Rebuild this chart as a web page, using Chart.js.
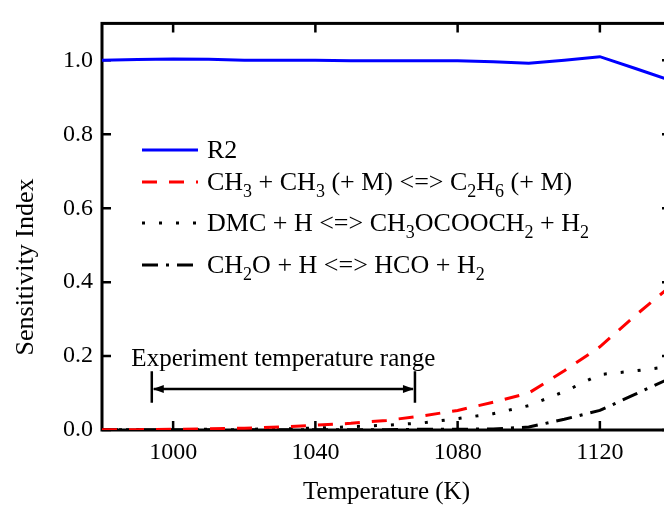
<!DOCTYPE html>
<html lang="en">
<head>
<meta charset="UTF-8" />
<title>Sensitivity Index vs Temperature</title>
<script src="https://cdn.jsdelivr.net/npm/chart.js"></script>
<style>
  html, body { margin: 0; padding: 0; background: #fff; overflow: hidden; }
  #wrap { width: 664px; height: 507px; overflow: hidden; }
</style>
</head>
<body>
<div id="wrap"><canvas id="chart" width="700" height="507"></canvas></div>
<script>
  // data
  const temps = [980, 990, 1000, 1010, 1020, 1030, 1040, 1050, 1060, 1070, 1080, 1090, 1100, 1110, 1120, 1130, 1140];
  const r2    = [1.000, 1.002, 1.004, 1.003, 1.000, 1.000, 1.000, 0.999, 0.999, 0.999, 0.999, 0.996, 0.992, 1.000, 1.010, 0.978, 0.945];
  const ch3   = [0.001, 0.001, 0.002, 0.003, 0.005, 0.008, 0.013, 0.018, 0.026, 0.038, 0.053, 0.075, 0.100, 0.160, 0.225, 0.310, 0.390];
  const dmc   = [0.001, 0.001, 0.001, 0.002, 0.002, 0.003, 0.005, 0.009, 0.013, 0.019, 0.031, 0.044, 0.066, 0.104, 0.150, 0.160, 0.172];
  const ch2o  = [0.001, 0.001, 0.001, 0.001, 0.001, 0.001, 0.001, 0.001, 0.001, 0.002, 0.002, 0.003, 0.008, 0.029, 0.053, 0.097, 0.141];

  const xTicks = [1000, 1040, 1080, 1120];
  const yTicks = [0, 0.2, 0.4, 0.6, 0.8, 1.0];

  // "_3" means subscript 3
  const labels = ['R2', 'CH_3 + CH_3 (+ M) <=> C_2H_6 (+ M)', 'DMC + H <=> CH_3OCOOCH_2 + H_2', 'CH_2O + H <=> HCO + H_2'];
  const rangeLabel = 'Experiment temperature range';
  const rangeStart = 994;
  const rangeEnd = 1068;

  const FONT = '"Liberation Serif", "Times New Roman", serif';

  const pts = arr => temps.map((t, i) => ({ x: t, y: arr[i] }));

  // frame with inward ticks on all four sides
  const framePlugin = {
    id: 'frame',
    beforeDatasetsDraw(chart) {
      const { ctx, chartArea: a, scales: { x, y } } = chart;
      ctx.save();
      ctx.strokeStyle = '#000';
      ctx.lineWidth = 3;
      ctx.strokeRect(a.left, a.top, a.right - a.left, a.bottom - a.top);
      ctx.lineWidth = 2.5;
      ctx.beginPath();
      xTicks.forEach(v => {
        const px = x.getPixelForValue(v);
        ctx.moveTo(px, a.bottom); ctx.lineTo(px, a.bottom - 9);
        ctx.moveTo(px, a.top); ctx.lineTo(px, a.top + 9);
      });
      yTicks.forEach(v => {
        const py = y.getPixelForValue(v);
        ctx.moveTo(a.left, py); ctx.lineTo(a.left + 9, py);
        ctx.moveTo(a.right, py); ctx.lineTo(a.right - 9, py);
      });
      ctx.stroke();
      ctx.restore();
    }
  };

  function drawRich(ctx, text, x, baseline, size) {
    const parts = text.split(/(_\d)/);
    parts.forEach(p => {
      if (!p) return;
      if (p[0] === '_') {
        ctx.font = Math.round(size * 0.7) + 'px ' + FONT;
        ctx.fillText(p[1], x, baseline + 7);
        x += ctx.measureText(p[1]).width;
      } else {
        ctx.font = size + 'px ' + FONT;
        ctx.fillText(p, x, baseline);
        x += ctx.measureText(p).width;
      }
    });
  }

  const extrasPlugin = {
    id: 'extras',
    afterDraw(chart) {
      const { ctx, scales: { x, y } } = chart;
      ctx.save();
      ctx.fillStyle = '#000';
      ctx.textBaseline = 'alphabetic';

      // legend
      const rows = [150, 182, 223, 265];
      chart.data.datasets.forEach((ds, i) => {
        const ry = rows[i];
        ctx.save();
        ctx.strokeStyle = ds.borderColor;
        ctx.lineWidth = ds.borderWidth;
        ctx.setLineDash(ds.borderDash || []);
        ctx.beginPath();
        ctx.moveTo(142, ry);
        ctx.lineTo(198, ry);
        ctx.stroke();
        ctx.restore();
        drawRich(ctx, ds.label, 207, ry + 8, 26);
      });

      // experiment range annotation
      const x0 = x.getPixelForValue(rangeStart);
      const x1 = x.getPixelForValue(rangeEnd);
      const ya = y.getPixelForValue(0.111);
      const yb0 = y.getPixelForValue(0.159);
      const yb1 = y.getPixelForValue(0.074);
      ctx.strokeStyle = '#000';
      ctx.lineWidth = 2.5;
      ctx.beginPath();
      ctx.moveTo(x0, yb0); ctx.lineTo(x0, yb1);
      ctx.moveTo(x1, yb0); ctx.lineTo(x1, yb1);
      ctx.moveTo(x0 + 2, ya); ctx.lineTo(x1 - 2, ya);
      ctx.stroke();
      ctx.beginPath();
      ctx.moveTo(x0 + 1, ya); ctx.lineTo(x0 + 12, ya - 4); ctx.lineTo(x0 + 12, ya + 4); ctx.closePath();
      ctx.moveTo(x1 - 1, ya); ctx.lineTo(x1 - 12, ya - 4); ctx.lineTo(x1 - 12, ya + 4); ctx.closePath();
      ctx.fill();

      ctx.font = '25px ' + FONT;
      ctx.textAlign = 'center';
      ctx.fillText(rangeLabel, (x0 + x1) / 2, y.getPixelForValue(0.196) + 8);

      // y axis title
      ctx.translate(26, 267);
      ctx.rotate(-Math.PI / 2);
      ctx.textAlign = 'center';
      ctx.textBaseline = 'middle';
      ctx.font = '26px ' + FONT;
      ctx.fillText('Sensitivity Index', 0, 0);
      ctx.restore();
    }
  };

  new Chart(document.getElementById('chart'), {
    type: 'line',
    data: {
      datasets: [
        { label: labels[0], data: pts(r2), borderColor: '#0000ff', borderWidth: 3 },
        { label: labels[1], data: pts(ch3), borderColor: '#ff0000', borderWidth: 3, borderDash: [15, 12] },
        { label: labels[2], data: pts(dmc), borderColor: '#000000', borderWidth: 3, borderDash: [3, 14] },
        { label: labels[3], data: pts(ch2o), borderColor: '#000000', borderWidth: 3, borderDash: [16, 8, 3, 8] }
      ]
    },
    options: {
      responsive: false,
      animation: false,
      elements: { point: { radius: 0 }, line: { tension: 0 } },
      layout: { padding: { top: 13, right: 29, left: 0, bottom: 0 } },
      plugins: { legend: { display: false }, tooltip: { enabled: false } },
      scales: {
        x: {
          type: 'linear',
          min: 980,
          max: 1140,
          afterBuildTicks: s => { s.ticks = xTicks.map(v => ({ value: v })); },
          afterFit: s => { s.height = 77; },
          grid: { display: false, drawTicks: false },
          border: { display: false },
          ticks: { color: '#000', padding: 8, font: { family: FONT, size: 24 }, callback: v => String(v) },
          title: { display: true, text: 'Temperature (K)', color: '#000', font: { family: FONT, size: 25 }, padding: { top: 0, bottom: 0 } }
        },
        y: {
          min: 0,
          max: 1.1,
          afterBuildTicks: s => { s.ticks = yTicks.map(v => ({ value: v })); },
          afterFit: s => { s.width = 102; },
          grid: { display: false, drawTicks: false },
          border: { display: false },
          ticks: { color: '#000', padding: 9, font: { family: FONT, size: 24 }, callback: v => v.toFixed(1) }
        }
      }
    },
    plugins: [framePlugin, extrasPlugin]
  });
</script>
</body>
</html>
